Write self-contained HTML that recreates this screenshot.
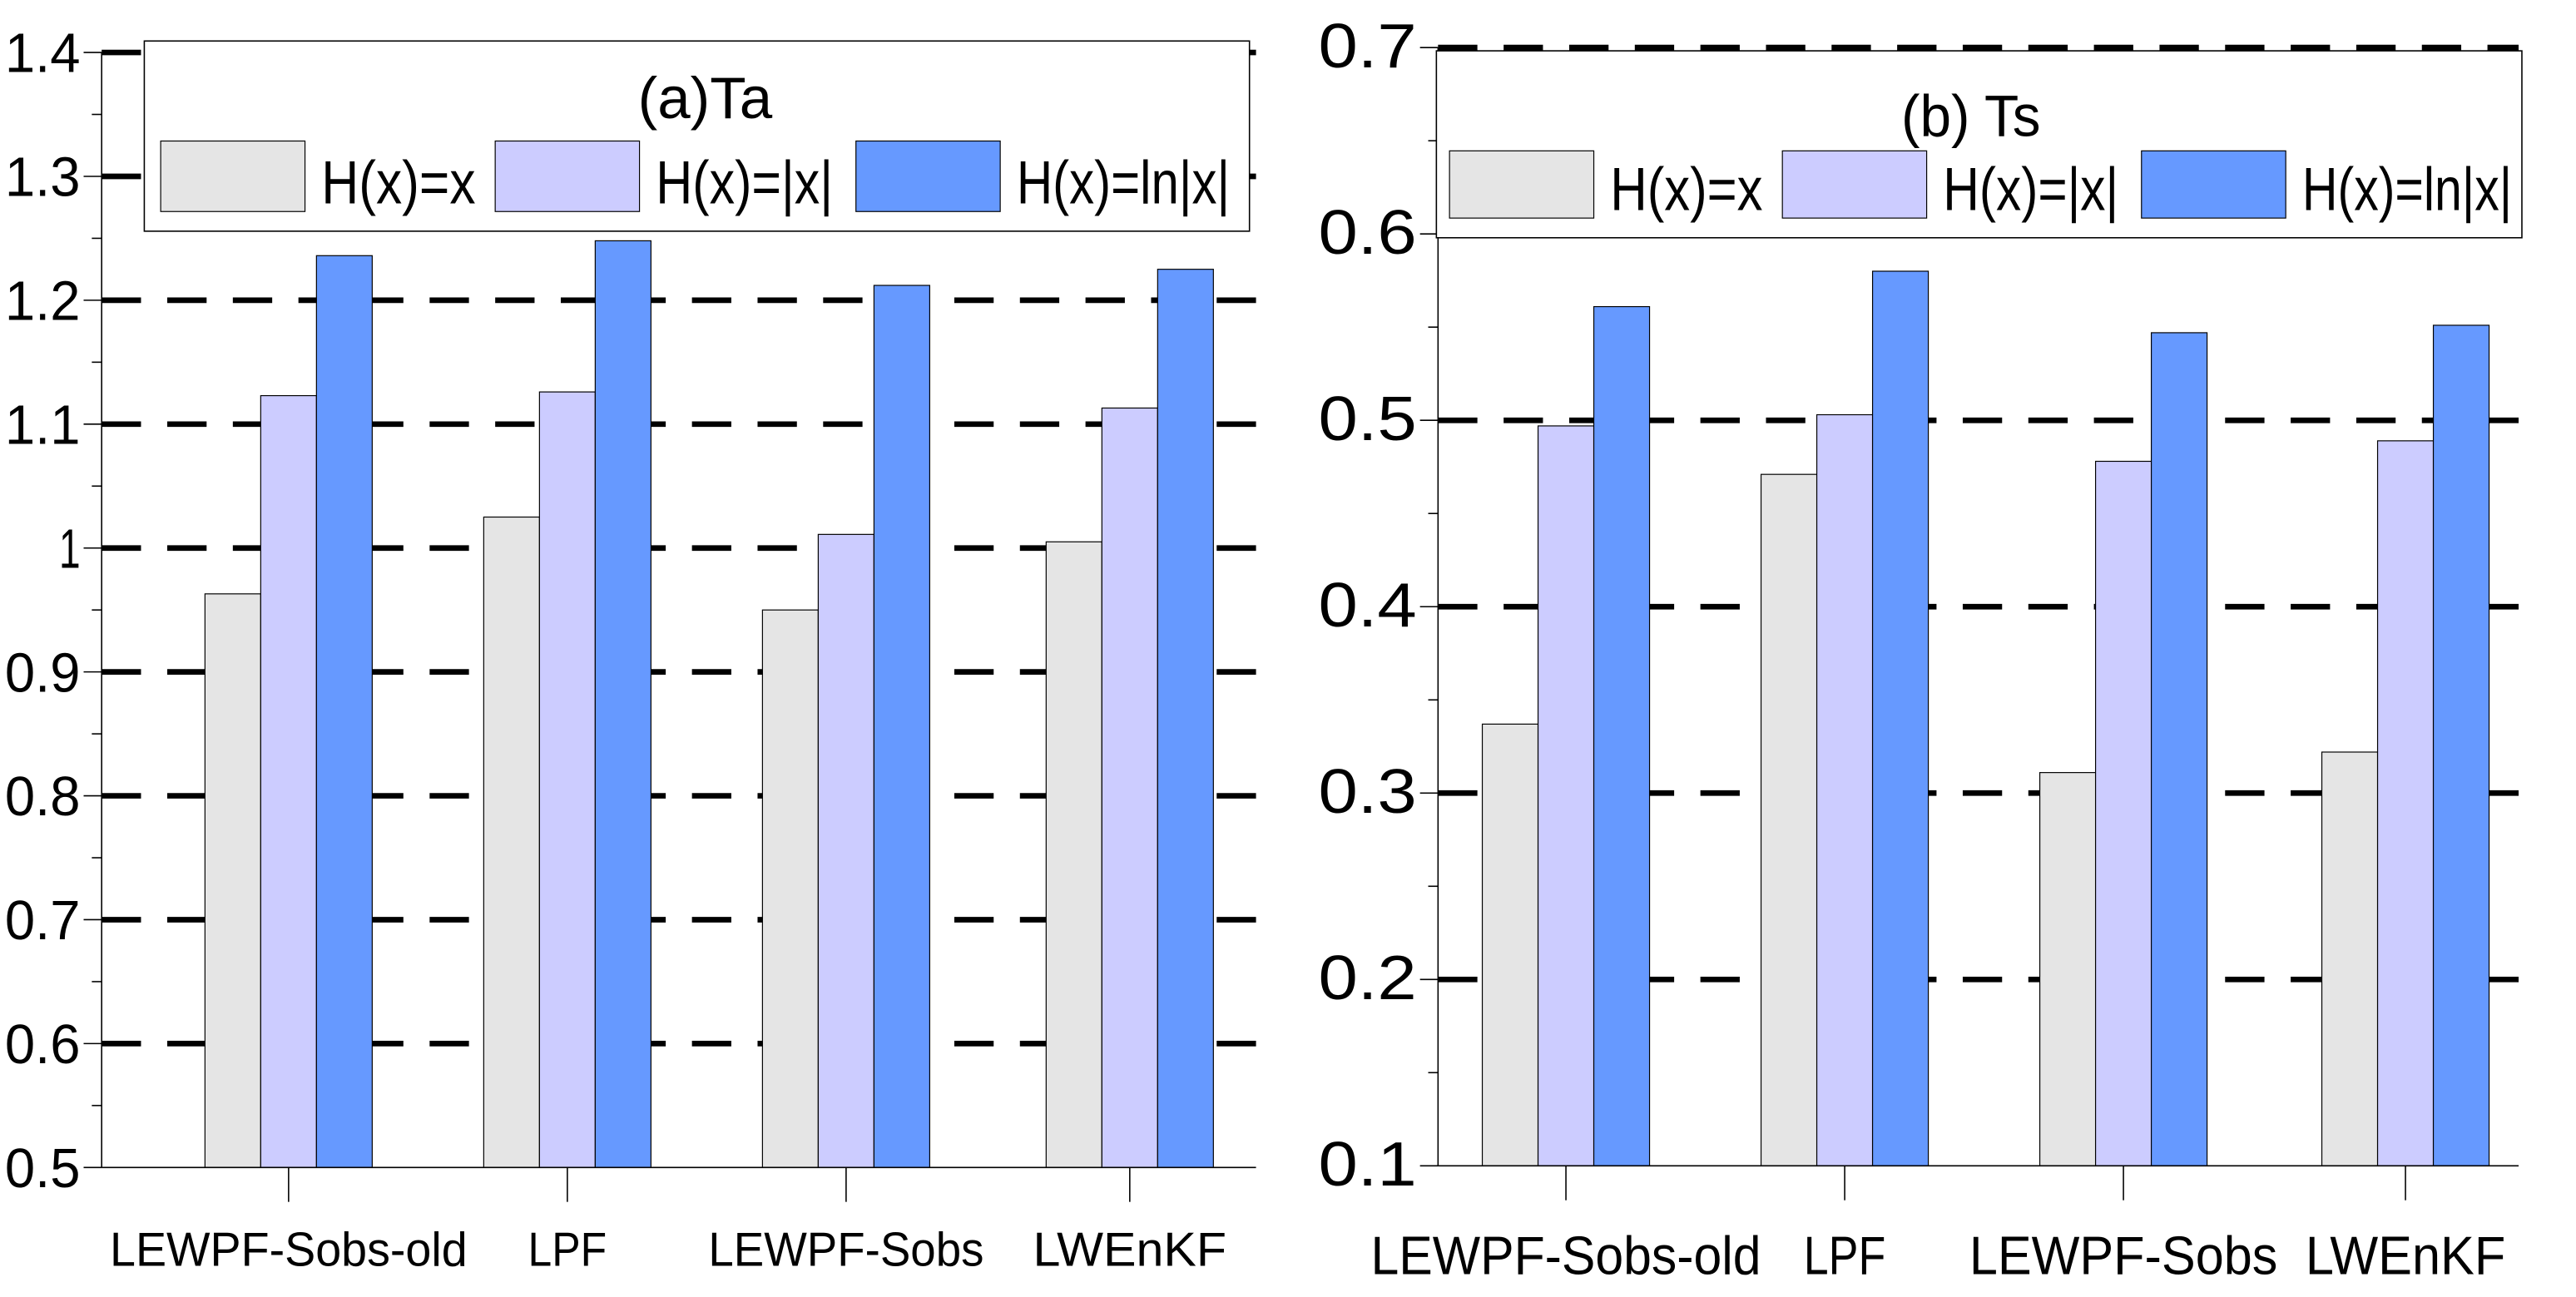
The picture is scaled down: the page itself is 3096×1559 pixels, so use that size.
<!DOCTYPE html>
<html><head><meta charset="utf-8"><style>
html,body{margin:0;padding:0;background:#fff;}
svg{display:block;font-family:"Liberation Sans",sans-serif;}
</style></head><body>
<svg id="chart" width="3096" height="1559" viewBox="0 0 1571 791" preserveAspectRatio="none" xmlns="http://www.w3.org/2000/svg"></svg>
<script>
const categories = ["LEWPF-Sobs-old","LPF","LEWPF-Sobs","LWEnKF"];
const seriesNames = ["H(x)=x","H(x)=|x|","H(x)=ln|x|"];
const taX = [0.963,1.025,0.950,1.005];
const taAbs = [1.123,1.126,1.011,1.113];
const taLn = [1.236,1.248,1.212,1.225];
const tsX = [0.337,0.471,0.311,0.322];
const tsAbs = [0.497,0.503,0.478,0.489];
const tsLn = [0.561,0.580,0.547,0.551];
const taTicks = ["0.5","0.6","0.7","0.8","0.9","1","1.1","1.2","1.3","1.4"];
const tsTicks = ["0.1","0.2","0.3","0.4","0.5","0.6","0.7"];
const colors = ["#e5e5e5","#ccccff","#6699ff"];

const NS="http://www.w3.org/2000/svg";
const svg=document.getElementById('chart');
function mk(tag,attrs,parent,text){const e=document.createElementNS(NS,tag);for(const k in attrs)e.setAttribute(k,attrs[k]);if(text!==undefined)e.textContent=text;(parent||svg).appendChild(e);return e;}

function panel(cfg){
  const g=mk('g',{});
  
  
  const vmin=parseFloat(cfg.ticks[0]), vmax=parseFloat(cfg.ticks[cfg.ticks.length-1]);
  const y=v=>cfg.yBot-(v-vmin)/(vmax-vmin)*(cfg.yBot-cfg.yTop);
  const step=(vmax-vmin)/(cfg.ticks.length-1);
  cfg.ticks.forEach((t,i)=>{
    const v=parseFloat(t);
    if(i===0) return;
    const gl=mk('line',{x1:cfg.x0,x2:cfg.x1,y1:y(v),y2:y(v),stroke:'#000','stroke-width':3.4,'stroke-dasharray':'24 16'},g);
    
    
  });
  const series=cfg.series;
  categories.forEach((c,ci)=>{
    const cx=cfg.centers[ci];
    series.forEach((arr,si)=>{
      const bx=cx-cfg.bw*1.5+si*cfg.bw;
      const r=mk('rect',{x:bx,y:y(arr[ci]),width:cfg.bw,height:cfg.yBot-y(arr[ci]),fill:colors[si],stroke:'#000','stroke-width':0.6},g);
      
      
    });
  });
  mk('line',{x1:cfg.x0,x2:cfg.x0,y1:cfg.yTop,y2:cfg.yBot,stroke:'#000','stroke-width':0.8},g);
  mk('line',{x1:cfg.x0,x2:cfg.x1,y1:cfg.yBot,y2:cfg.yBot,stroke:'#000','stroke-width':0.8},g);
  cfg.ticks.forEach((t,i)=>{
    const v=parseFloat(t);
    mk('line',{x1:cfg.x0-11,x2:cfg.x0,y1:y(v),y2:y(v),stroke:'#000','stroke-width':0.8},g);
    if(i<cfg.ticks.length-1) mk('line',{x1:cfg.x0-6,x2:cfg.x0,y1:y(v+step/2),y2:y(v+step/2),stroke:'#000','stroke-width':0.8},g);
    const w=t.length===1?cfg.tw1:cfg.tw;
    const tl=mk('text',{x:cfg.x0-13,y:y(v)+12,'text-anchor':'end','font-size':cfg.tfs,textLength:w,lengthAdjust:'spacingAndGlyphs'},g,t);
    
    
  });
  categories.forEach((c,ci)=>{
    mk('line',{x1:cfg.centers[ci],x2:cfg.centers[ci],y1:cfg.yBot,y2:cfg.yBot+21,stroke:'#000','stroke-width':0.8},g);
    const xl=mk('text',{x:cfg.centers[ci],y:cfg.labY,'text-anchor':'middle','font-size':cfg.xfs,textLength:cfg.labW[ci],lengthAdjust:'spacingAndGlyphs'},g,c);
    
    
  });
  const L=cfg.leg;
  const lb=mk('rect',{x:L.x,y:L.y,width:L.w,height:L.h,fill:'#fff',stroke:'#000','stroke-width':0.8},g);
  
  
  const tt=mk('text',{x:L.tx,y:L.ty,'text-anchor':'middle','font-size':36,textLength:L.tw,lengthAdjust:'spacingAndGlyphs'},g,cfg.title);
  
  
  seriesNames.forEach((s,si)=>{
    const sw=mk('rect',{x:L.sx[si],y:L.sy,width:88,height:L.sh,fill:colors[si],stroke:'#000','stroke-width':0.6},g);
    
    
    const lt=mk('text',{x:L.sx[si]+98,y:L.sy+L.sh-5,'font-size':37,textLength:L.lw[si],lengthAdjust:'spacingAndGlyphs'},g,s);
    
    
  });
}

panel({name:'panel-ta',ticks:taTicks,series:[taX,taAbs,taLn],x0:62,x1:766,yTop:32,yBot:712,
  centers:[176,346,516,689],bw:34,tfs:34,tw:46,tw1:13,xfs:29,labY:772,labW:[218,48,168,118],
  title:'(a)Ta',leg:{x:88,y:25,w:674,h:116,tx:430,ty:72,tw:82,sx:[98,302,522],sy:86,sh:43,lw:[94,108,130]}});
panel({name:'panel-ts',ticks:tsTicks,series:[tsX,tsAbs,tsLn],x0:877,x1:1536,yTop:29,yBot:711,
  centers:[955,1125,1295,1467],bw:34,tfs:38,tw:60,tw1:18,xfs:33,labY:777,labW:[238,50,188,122],
  title:'(b) Ts',leg:{x:876,y:31,w:662,h:114,tx:1202,ty:83,tw:85,sx:[884,1087,1306],sy:92,sh:41,lw:[93,107,128]}});
</script>
</body></html>
